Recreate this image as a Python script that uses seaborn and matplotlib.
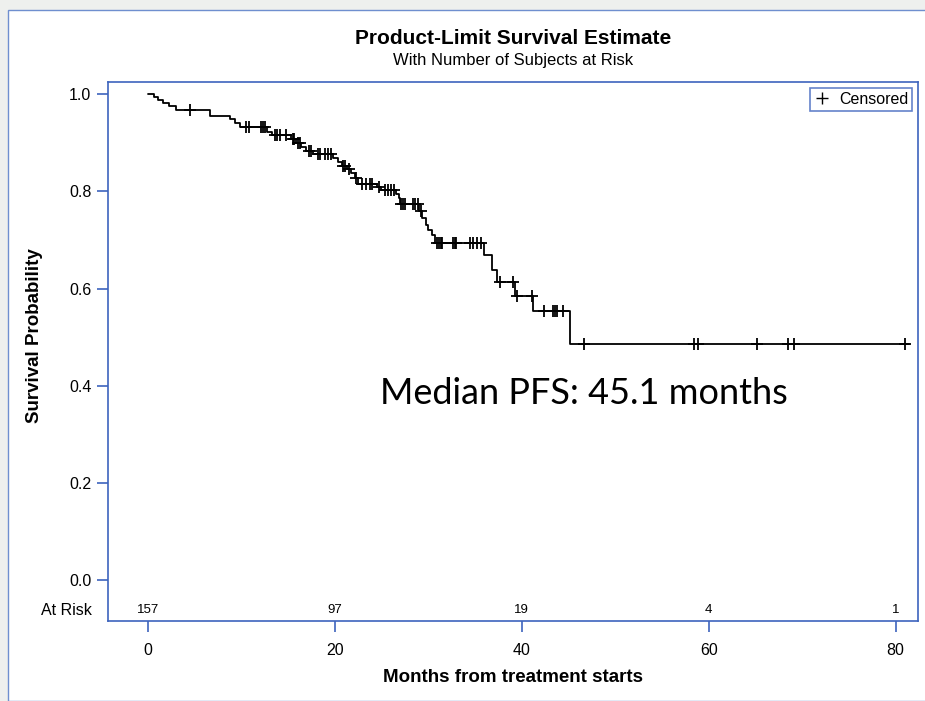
import numpy as np
import pandas as pd
import matplotlib
matplotlib.use("Agg")
import matplotlib.pyplot as plt
from matplotlib.patches import Rectangle
from matplotlib.lines import Line2D
import matplotlib.transforms as mtransforms
import seaborn as sns

# ---- data ----
event_times = [0.0, 0.6, 1.1, 1.6, 2.2, 3.0, 6.6, 8.8, 9.3, 9.8, 12.7, 13.3, 15.3, 15.8,
               16.4, 16.9, 17.6, 19.8, 20.3, 20.8, 21.3, 21.7, 22.1, 22.5, 24.5, 24.9,
               26.5, 26.8, 27.0, 29.0, 29.3, 29.7, 30.0, 30.4, 30.7, 35.9, 36.8, 37.3,
               39.3, 41.2, 45.2, 81.4]
survival = [1.0, 0.994, 0.987, 0.981, 0.975, 0.967, 0.955, 0.949, 0.941, 0.933, 0.922,
            0.916, 0.908, 0.900, 0.891, 0.884, 0.877, 0.869, 0.861, 0.853, 0.845, 0.837,
            0.827, 0.815, 0.808, 0.802, 0.795, 0.786, 0.774, 0.759, 0.745, 0.731, 0.720,
            0.710, 0.693, 0.669, 0.639, 0.614, 0.584, 0.554, 0.485, 0.485]
censor_times = [4.5, 10.5, 10.8, 12.1, 12.3, 12.5, 13.6, 13.8, 14.1, 14.7, 15.5, 15.6,
                16.0, 16.2, 17.2, 17.4, 18.2, 18.4, 18.9, 19.3, 19.6, 20.9, 21.1, 21.5,
                22.2, 22.9, 23.3, 23.7, 24.0, 24.7, 25.3, 25.7, 26.0, 26.3, 27.1, 27.3,
                27.5, 28.3, 28.6, 28.9, 29.2, 30.9, 31.1, 31.3, 31.5, 32.6, 32.8, 33.0,
                34.4, 34.8, 35.2, 35.6, 37.7, 39.1, 39.5, 41.1, 42.4, 43.3, 43.5, 43.8,
                44.4, 46.6, 58.4, 58.8, 65.2, 68.5, 69.1, 81.0]
risk_times = [0, 20, 40, 60, 80]
at_risk = [157, 97, 19, 4, 1]
y_ticks = [0.0, 0.2, 0.4, 0.6, 0.8, 1.0]
x_ticks = [0, 20, 40, 60, 80]

# survival at each censor time (value of the step function)
ev = np.array(event_times)
sv = np.array(survival)
censor_surv = [sv[np.searchsorted(ev, t, side="right") - 1] for t in censor_times]

curve = pd.DataFrame({"t": event_times, "s": survival})
cens = pd.DataFrame({"t": censor_times, "s": censor_surv})

sns.set_theme(style="white")
plt.rcParams["font.family"] = ["Liberation Sans", "DejaVu Sans"]
plt.rcParams["text.color"] = "black"
plt.rcParams["xtick.color"] = "black"
plt.rcParams["ytick.color"] = "black"

BLUE = "#3d64bd"
W, H = 925, 701
fig = plt.figure(figsize=(W / 100, H / 100), dpi=100)
fig.patch.set_facecolor("#eef0ee")
# slide frame
fig.patches.append(Rectangle((8 / W, 0), 1.0, 1 - 10 / H, transform=fig.transFigure,
                             facecolor="white", edgecolor="#6f8fcf", lw=1.0, zorder=-5))

ax = fig.add_axes([108 / W, 1 - 621 / H, (918 - 108) / W, (621 - 82) / H])
ax.set_zorder(5)
ax.set_facecolor("white")

sns.lineplot(data=curve, x="t", y="s", drawstyle="steps-post", color="black",
             lw=1.3, sort=False, estimator=None, ax=ax, legend=False)
sns.scatterplot(data=cens, x="t", y="s", marker="+", color="black", s=70,
                linewidth=1.3, ax=ax, legend=False, zorder=3)

ax.set_xlim(-4.3, 82.4)
ax.set_ylim(-0.084, 1.025)
ax.set_xticks(x_ticks)
ax.set_yticks(y_ticks)
ax.set_yticklabels([f"{v:.1f}" for v in y_ticks], fontsize=11.5)
ax.set_xticklabels([str(v) for v in x_ticks], fontsize=11.5)
ax.tick_params(axis="both", which="major", direction="out", length=8, width=1.2,
               color=BLUE, pad=4, labelcolor="black", bottom=True, left=True)
ax.tick_params(axis="x", pad=8)
for sp in ax.spines.values():
    sp.set_color(BLUE)
    sp.set_linewidth(1.2)
ax.set_xlabel("")
ax.set_ylabel("")

# at-risk row
for t, n in zip(risk_times, at_risk):
    ax.text(t, -0.062, str(n), ha="center", va="center", fontsize=9.5, color="black")
trans = mtransforms.blended_transform_factory(ax.transAxes, ax.transData)
ax.text(-0.02, -0.062, "At Risk", transform=trans, ha="right", va="center", fontsize=11.5)

# legend
handle = Line2D([], [], marker="+", color="black", linestyle="none", markersize=8,
                markeredgewidth=1.0)
leg = ax.legend([handle], ["Censored"], loc="upper right", frameon=True, fancybox=False,
                fontsize=11.5, borderaxespad=0.35, handletextpad=0.6, borderpad=0.25,
                handlelength=1.0)
leg.get_frame().set_edgecolor(BLUE)
leg.get_frame().set_linewidth(1.2)

# titles and labels
fig.text(513 / W, 1 - 39 / H, "Product-Limit Survival Estimate", ha="center", va="center",
         fontsize=15, fontweight="bold")
fig.text(513 / W, 1 - 60 / H, "With Number of Subjects at Risk", ha="center", va="center",
         fontsize=12)
fig.text(513 / W, 1 - 678 / H, "Months from treatment starts", ha="center", va="center",
         fontsize=13.5, fontweight="bold")
fig.text(35 / W, 1 - 336 / H, "Survival Probability", ha="center", va="center",
         fontsize=13.5, fontweight="bold", rotation=90)

ax.text(380 / W, 1 - 393 / H, "Median PFS: 45.1 months", ha="left", va="center",
        fontsize=26, family=["Lato", "DejaVu Sans"], transform=fig.transFigure,
        zorder=10)

fig.savefig("out.png", dpi=100)
